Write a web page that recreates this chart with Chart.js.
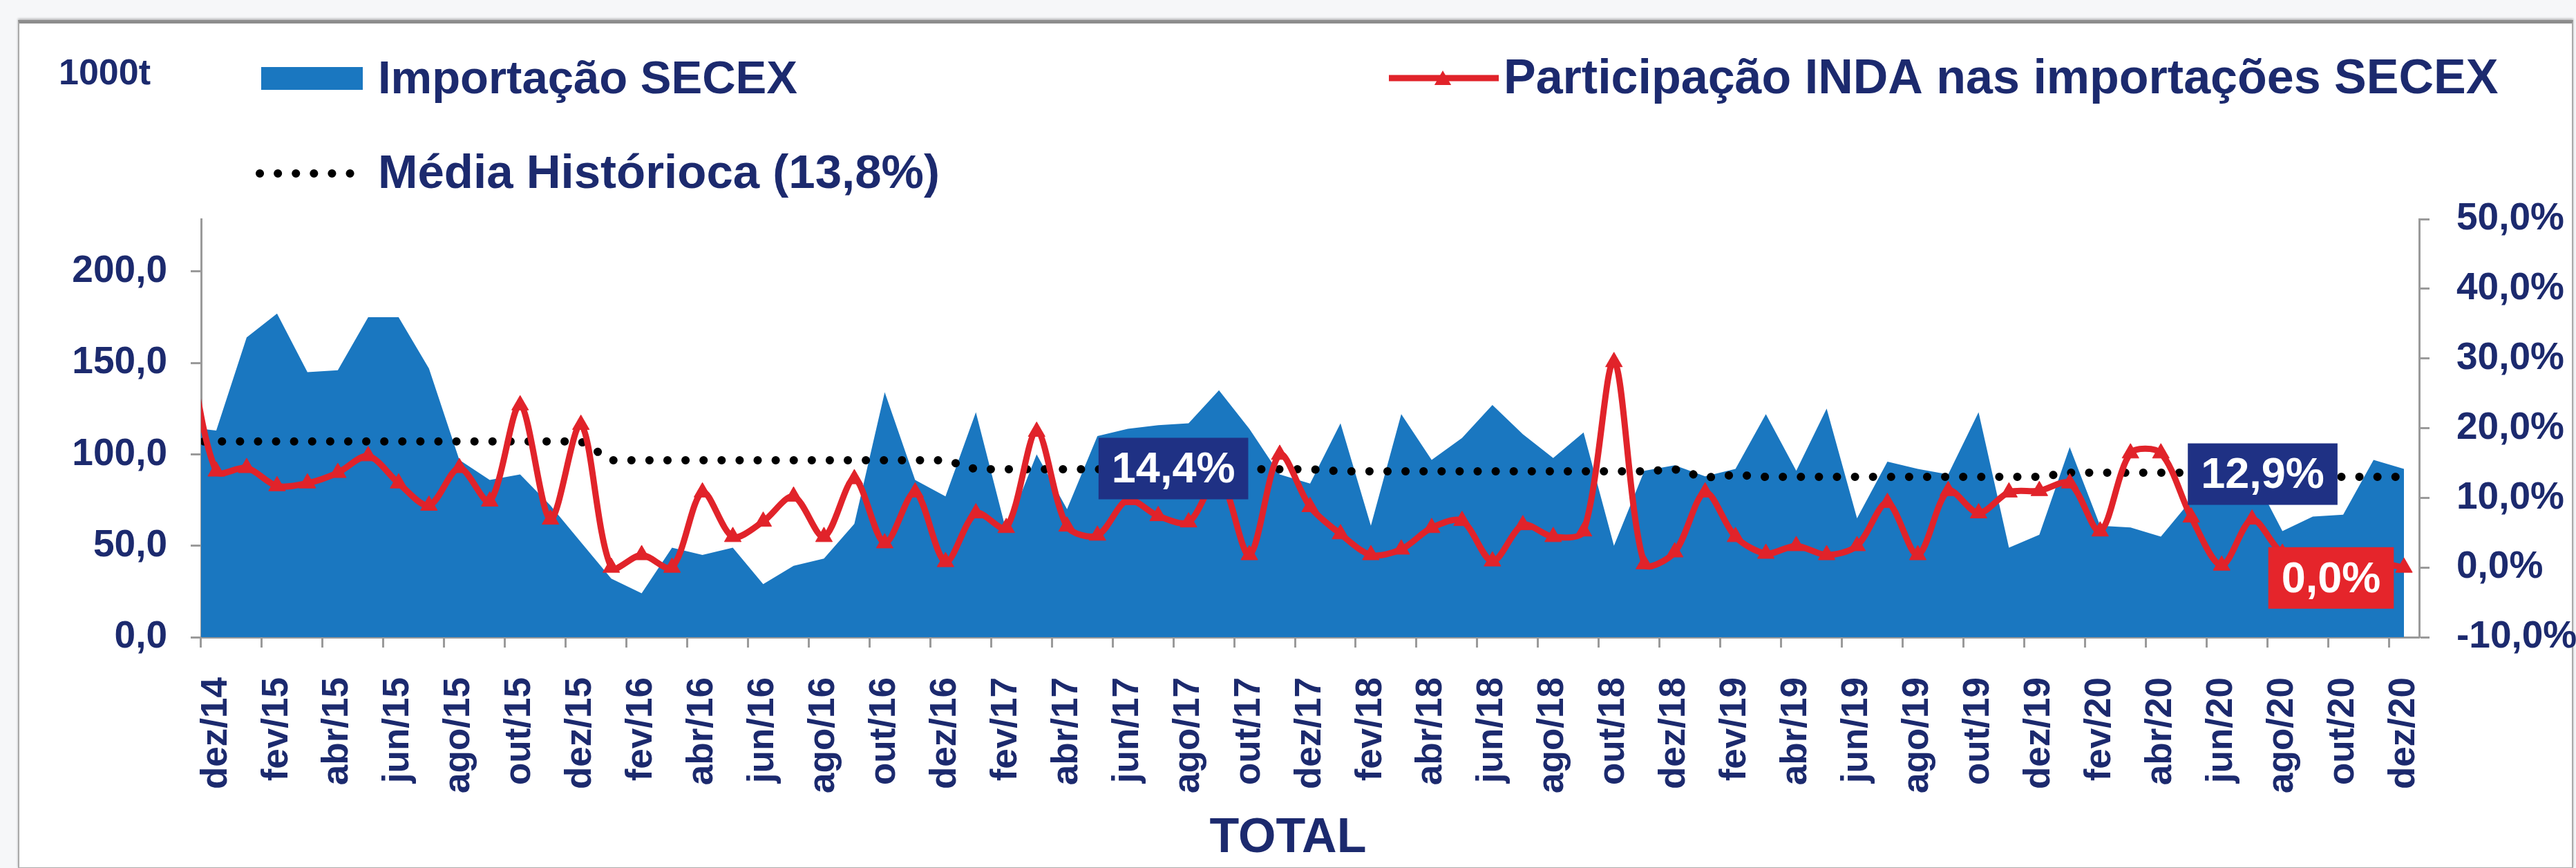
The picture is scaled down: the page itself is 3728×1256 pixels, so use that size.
<!DOCTYPE html>
<html lang="pt-BR">
<head>
<meta charset="utf-8">
<title>Importação SECEX x Participação INDA</title>
<script src="https://cdn.jsdelivr.net/npm/chart.js@4.4.1/dist/chart.umd.min.js"></script>
<style>
    html, body { margin: 0; padding: 0; background: #f6f7f9; }
    #quadro {
        position: absolute; left: 26px; top: 29px; width: 3694px; height: 1221px;
        background: #fff;
        border-top: 5px solid #8c8c8c; border-left: 2px solid #aaa;
        border-right: 2px solid #aaa; border-bottom: 2px solid #aaa;
        box-shadow: 0 -2px 3px rgba(0, 0, 0, 0.25);
    }
    #area-grafico { position: absolute; left: 0; top: 0; width: 3728px; height: 1256px; }
</style>
</head>
<body>
<div id="quadro"></div>
<div id="area-grafico"><canvas id="grafico"></canvas></div>

<script>
/* --- Dados --- */
// nov/14 fica fora do eixo: só aparece a entrada da linha/área na borda esquerda
const meses = [
    'nov/14', 'dez/14',
    'jan/15', 'fev/15', 'mar/15', 'abr/15', 'mai/15', 'jun/15', 'jul/15', 'ago/15', 'set/15', 'out/15', 'nov/15', 'dez/15',
    'jan/16', 'fev/16', 'mar/16', 'abr/16', 'mai/16', 'jun/16', 'jul/16', 'ago/16', 'set/16', 'out/16', 'nov/16', 'dez/16',
    'jan/17', 'fev/17', 'mar/17', 'abr/17', 'mai/17', 'jun/17', 'jul/17', 'ago/17', 'set/17', 'out/17', 'nov/17', 'dez/17',
    'jan/18', 'fev/18', 'mar/18', 'abr/18', 'mai/18', 'jun/18', 'jul/18', 'ago/18', 'set/18', 'out/18', 'nov/18', 'dez/18',
    'jan/19', 'fev/19', 'mar/19', 'abr/19', 'mai/19', 'jun/19', 'jul/19', 'ago/19', 'set/19', 'out/19', 'nov/19', 'dez/19',
    'jan/20', 'fev/20', 'mar/20', 'abr/20', 'mai/20', 'jun/20', 'jul/20', 'ago/20', 'set/20', 'out/20', 'nov/20', 'dez/20'
];

// Importação SECEX (1000t)
const importacaoSecex = [
    115, 113,
    164, 177, 145, 146, 175, 175, 147, 97, 86, 89, 72, 52,
    32, 24, 49, 45, 49, 29, 39, 43, 62, 134, 86, 77,
    123, 58, 100, 70, 110, 114, 116, 117, 135, 114, 89, 84,
    117, 61, 122, 97, 109, 127, 111, 98, 112, 50, 91, 94,
    88, 92, 122, 91, 125, 65, 96, 92, 89, 123, 49, 56,
    104, 61, 60, 55, 75, 95, 90, 58, 66, 67, 97, 92
];

// Participação INDA nas importações SECEX (%)
const participacaoInda = [
    34.0, 13.8,
    14.3, 11.7, 12.1, 13.6, 16.0, 12.1, 8.9, 14.3, 9.5, 23.3, 6.9, 20.5,
    0.0, 1.8, 0.0, 10.8, 4.4, 6.6, 10.2, 4.4, 12.7, 3.5, 10.8, 0.8,
    7.8, 5.7, 19.5, 5.9, 4.6, 9.7, 7.4, 6.5, 13.0, 1.8, 16.2, 8.7,
    4.8, 1.8, 2.6, 5.7, 6.7, 0.9, 6.1, 4.4, 5.2, 29.5, 0.5, 2.2,
    10.8, 4.4, 2.0, 3.1, 1.8, 3.1, 9.3, 1.8, 11.0, 7.8, 10.8, 11.0,
    12.1, 5.2, 16.4, 16.4, 7.2, 0.3, 6.9, 2.0, 1.0, 0.6, 0.8, 0.0
];

// Média histórica (%)
const mediaHistorica = [
    18.1, 18.1,
    18.1, 18.1, 18.1, 18.1, 18.1, 18.1, 18.1, 18.1, 18.1, 18.1, 18.1, 18.1,
    15.4, 15.4, 15.4, 15.4, 15.4, 15.4, 15.4, 15.4, 15.4, 15.4, 15.4, 15.4,
    14.1, 14.1, 14.1, 14.1, 14.1, 14.1, 14.1, 14.1, 14.1, 14.1, 14.1, 14.1,
    13.8, 13.8, 13.8, 13.8, 13.8, 13.8, 13.8, 13.8, 13.8, 13.8, 13.8, 14.1,
    12.9, 13.3, 13.0, 13.0, 13.0, 13.0, 13.0, 13.0, 13.0, 13.0, 13.0, 13.0,
    13.6, 13.6, 13.6, 13.6, 13.6, 13.6, 13.6, 13.6, 13.0, 13.0, 13.0, 13.0
];

const nomesSeries = ['Importação SECEX', 'Participação INDA nas importações SECEX', 'Média Histórioca (13,8%)'];
const ticksEsquerda = [0, 50, 100, 150, 200];
const ticksDireita = [-10, 0, 10, 20, 30, 40, 50];

// Rótulos em caixa (índice do mês, valor no eixo %)
const caixas = [
    { texto: '14,4%', x: 31.5, y: 14.2, cor: '#1f3184' },
    { texto: '12,9%', x: 67.35, y: 13.4, cor: '#1f3184' },
    { texto: '0,0%', x: 69.6, y: -1.5, cor: '#e5252b' }
];

document.addEventListener('DOMContentLoaded', () => {

    /* --- Estilos --- */
    const fonte = "'Liberation Sans', Arial, sans-serif";
    const corTexto = '#1c2a6e';
    const corArea = '#1a77c0';
    const corLinha = '#e1232a';
    const corEixo = '#9a9a9a';
    const pontilhado = [0.1, 26];

    Chart.defaults.font.family = fonte;
    Chart.defaults.color = corTexto;

    const pontos = valores => valores.map((v, k) => ({ x: k - 1, y: v }));
    const formatar = (v, casas) => v.toFixed(casas).replace('.', ',');

    function triangulo(ctx, x, y, r) {
        ctx.beginPath();
        ctx.moveTo(x, y - r);
        ctx.lineTo(x + r * Math.sin(2 * Math.PI / 3), y - r * Math.cos(2 * Math.PI / 3));
        ctx.lineTo(x + r * Math.sin(4 * Math.PI / 3), y - r * Math.cos(4 * Math.PI / 3));
        ctx.closePath();
        ctx.fill();
    }

    /* --- Legenda desenhada à mão (layout em duas linhas) --- */
    const legendaManual = {
        id: 'legendaManual',
        afterDraw(chart) {
            const ctx = chart.ctx;
            ctx.save();
            ctx.textAlign = 'left';
            ctx.textBaseline = 'alphabetic';
            ctx.fillStyle = corTexto;
            ctx.font = `bold 52px ${fonte}`;
            ctx.fillText('1000t', 85, 122);

            // Importação SECEX
            ctx.fillStyle = corArea;
            ctx.fillRect(378, 97, 147, 33);
            ctx.fillStyle = corTexto;
            ctx.font = `bold 67px ${fonte}`;
            ctx.fillText(nomesSeries[0], 547, 135);

            // Participação INDA
            ctx.strokeStyle = corLinha;
            ctx.lineWidth = 9;
            ctx.beginPath();
            ctx.moveTo(2010, 113);
            ctx.lineTo(2169, 113);
            ctx.stroke();
            ctx.fillStyle = corLinha;
            triangulo(ctx, 2088, 116, 14);
            ctx.fillStyle = corTexto;
            ctx.font = `bold 70px ${fonte}`;
            ctx.fillText(nomesSeries[1], 2176, 135);

            // Média histórica
            ctx.strokeStyle = '#000';
            ctx.lineWidth = 12;
            ctx.lineCap = 'round';
            ctx.setLineDash(pontilhado);
            ctx.beginPath();
            ctx.moveTo(376, 251);
            ctx.lineTo(520, 251);
            ctx.stroke();
            ctx.setLineDash([]);
            ctx.font = `bold 69px ${fonte}`;
            ctx.fillText(nomesSeries[2], 547, 272);
            ctx.restore();
        }
    };

    /* --- Caixas de destaque sobre as séries --- */
    const rotulosCaixa = {
        id: 'rotulosCaixa',
        afterDatasetsDraw(chart) {
            const ctx = chart.ctx;
            const sx = chart.scales.x;
            const sy = chart.scales.y1;
            ctx.save();
            ctx.font = `bold 63px ${fonte}`;
            ctx.textAlign = 'center';
            ctx.textBaseline = 'middle';
            caixas.forEach(c => {
                const cx = sx.getPixelForValue(c.x);
                const cy = sy.getPixelForValue(c.y);
                const w = ctx.measureText(c.texto).width + 38;
                const h = 89;
                ctx.fillStyle = c.cor;
                ctx.fillRect(cx - w / 2, cy - h / 2, w, h);
                ctx.fillStyle = '#fff';
                ctx.fillText(c.texto, cx, cy + 3);
            });
            ctx.restore();
        }
    };

    /* --- Gráfico --- */
    new Chart(document.getElementById('grafico').getContext('2d'), {
        type: 'line',
        data: {
            datasets: [
                {
                    label: nomesSeries[2], data: pontos(mediaHistorica), yAxisID: 'y1',
                    borderColor: '#000', borderWidth: 12, borderDash: pontilhado, borderCapStyle: 'round',
                    pointRadius: 0, fill: false, tension: 0, clip: 0, order: 1
                },
                {
                    label: nomesSeries[1], data: pontos(participacaoInda), yAxisID: 'y1',
                    borderColor: corLinha, borderWidth: 9, tension: 0.3, fill: false,
                    pointStyle: 'triangle', pointRadius: 14, pointBackgroundColor: corLinha,
                    pointBorderColor: corLinha, pointBorderWidth: 1, clip: 0, order: 0
                },
                {
                    label: nomesSeries[0], data: pontos(importacaoSecex), yAxisID: 'y',
                    backgroundColor: corArea, borderWidth: 0, pointRadius: 0,
                    fill: 'origin', tension: 0, clip: 0, order: 2
                }
            ]
        },
        options: {
            responsive: true,
            maintainAspectRatio: false,
            animation: false,
            events: [],
            layout: { padding: { top: 317, left: 0, right: 0, bottom: 0 } },
            plugins: {
                legend: { display: false },
                tooltip: { enabled: false },
                title: {
                    display: true, text: 'TOTAL', position: 'bottom', color: corTexto,
                    font: { size: 70, weight: 'bold' }, padding: 0
                }
            },
            scales: {
                x: {
                    type: 'linear', min: -0.5, max: 72.5,
                    afterBuildTicks: s => { s.ticks = meses.slice(1).map((m, i) => ({ value: i })); },
                    afterFit: s => { s.height = 250; },
                    ticks: {
                        autoSkip: false, minRotation: 90, maxRotation: 90, padding: 43,
                        font: { size: 53, weight: 'bold' }, color: corTexto,
                        callback: (v, i) => (i % 2 === 0 ? meses[i + 1] : '')
                    },
                    grid: {
                        offset: true, drawOnChartArea: false, tickLength: 15, tickWidth: 3,
                        tickColor: c => (c.index !== undefined && c.index % 2 === 0 ? corEixo : 'rgba(0,0,0,0)')
                    },
                    border: { color: corEixo, width: 3 }
                },
                y: {
                    position: 'left', min: 0, max: 228.7,
                    afterBuildTicks: s => { s.ticks = ticksEsquerda.map(v => ({ value: v })); },
                    afterFit: s => { s.width = 291; },
                    ticks: {
                        padding: 34, font: { size: 55, weight: 'bold' }, color: corTexto,
                        callback: v => formatar(v, 1)
                    },
                    grid: { drawOnChartArea: false, tickLength: 15, tickWidth: 3, tickColor: corEixo },
                    border: { color: corEixo, width: 3 }
                },
                y1: {
                    position: 'right', min: -10, max: 50,
                    afterBuildTicks: s => { s.ticks = ticksDireita.map(v => ({ value: v })); },
                    afterFit: s => { s.width = 227; },
                    ticks: {
                        padding: 39, font: { size: 55, weight: 'bold' }, color: corTexto,
                        callback: v => formatar(v, 1) + '%'
                    },
                    grid: { drawOnChartArea: false, tickLength: 15, tickWidth: 3, tickColor: corEixo },
                    border: { color: corEixo, width: 3 }
                }
            }
        },
        plugins: [legendaManual, rotulosCaixa]
    });
});
</script>
</body>
</html>
